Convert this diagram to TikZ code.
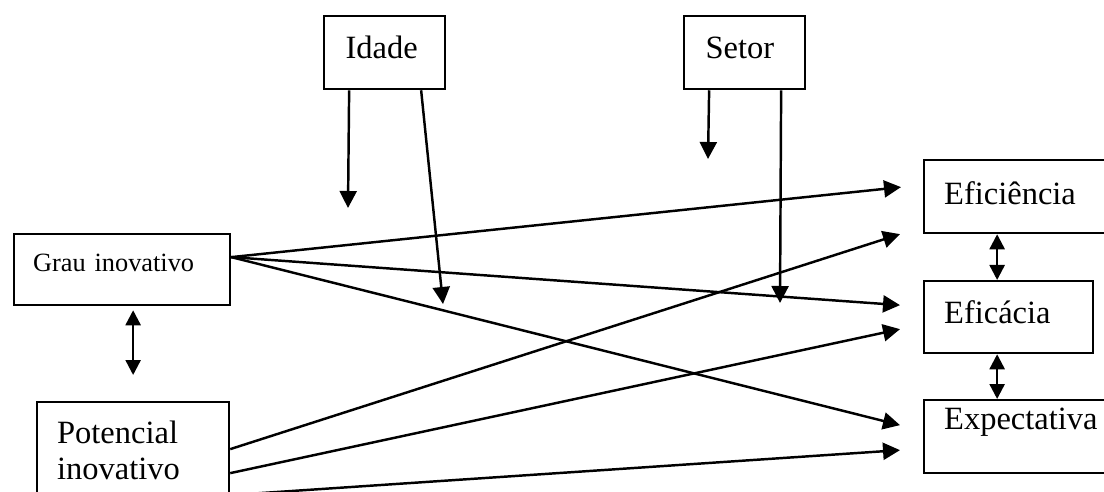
\documentclass[tikz,border=0pt]{standalone}
\usepackage{fontspec}
\setmainfont{Liberation Serif}
\usetikzlibrary{arrows.meta,calc}
\tikzset{
  box/.style={draw, line width=1.3pt, anchor=north west, inner sep=0pt,
    align=left, font=\fontsize{18.5}{20.5}\selectfont},
  arr/.style={line width=1.4pt, -{Triangle[length=0.34cm,width=0.34cm]}},
  dbl/.style={line width=1.4pt,
    {Triangle[length=0.3cm,width=0.3cm]}-{Triangle[length=0.3cm,width=0.3cm]}}
}
\begin{document}
\begin{tikzpicture}[x=0.02cm,y=-0.02cm]
      \useasboundingbox (0,0) rectangle (1104,492);
      \draw
        (323,15) node[box, inner xsep=0.43cm, text width=1.56cm, text height=0.84cm, text depth=0.62cm] (idade){Idade}
        (683,15) node[box, inner xsep=0.43cm, text width=1.56cm, text height=0.84cm, text depth=0.62cm] (setor){Setor}
        (923,159) node[box, inner xsep=0.4cm, text width=2.94cm, text height=0.88cm, text depth=0.58cm] (efi){Eficiência}
        (923,280) node[box, inner xsep=0.4cm, text width=2.58cm, text height=0.84cm, text depth=0.6cm] (efc){Eficácia}
        (923,399) node[box, inner xsep=0.4cm, text width=2.94cm, text height=0.58cm, text depth=0.88cm] (expt){Expectativa}
        (13,233) node[box, font=\fontsize{15}{18}\selectfont, inner xsep=0.38cm, text width=3.56cm, text height=0.74cm, text depth=0.68cm] (grau){Grau inovativo}
        (36,401) node[box, inner xsep=0.4cm, text width=3.04cm, text height=0.82cm, text depth=1.36cm] (pot){Potencial\\inovativo};
      \coordinate (idadeA) at (348,208);
      \coordinate (idadeB) at (443,304);
      \coordinate (setorA) at (708,159);
      \coordinate (setorB) at (780,303);
      \begin{scope}[arr]
        \draw ($(idade.south)+(-35.5,0)$) to (idadeA);
        \draw ($(idade.south)+(36.5,0)$) to (idadeB);
        \draw ($(setor.south)+(-35.5,0)$) to (setorA);
        \draw ($(setor.south)+(36.5,0)$) to (setorB);
        \draw ($(grau.east)+(0,-12.5)$) to ($(efi.west)+(-22,-9.5)$);
        \draw ($(grau.east)+(0,-12.5)$) to ($(efc.west)+(-23,-12)$);
        \draw ($(grau.east)+(0,-12.5)$) to ($(expt.west)+(-23,-11.5)$);
        \draw ($(pot.east)+(0,-7.5)$) to ($(efi.west)+(-23,37.5)$);
        \draw ($(pot.east)+(0,16.5)$) to ($(efc.west)+(-23,12)$);
        \draw ($(pot.east)+(0,38.5)$) to ($(expt.west)+(-23,13.5)$);
      \end{scope}
      \begin{scope}[dbl]
        \draw ($(efc.north)+(-11.5,0)$) to ($(efc.north |- efi.south)+(-11.5,0)$);
        \draw ($(efc.south)+(-11.5,0)$) to ($(efc.south |- expt.north)+(-11.5,0)$);
        \draw ($(pot.north)+(0,-26)$) to ($(pot.north |- grau.south)+(0,4)$);
      \end{scope}
    \end{tikzpicture}
\end{document}
